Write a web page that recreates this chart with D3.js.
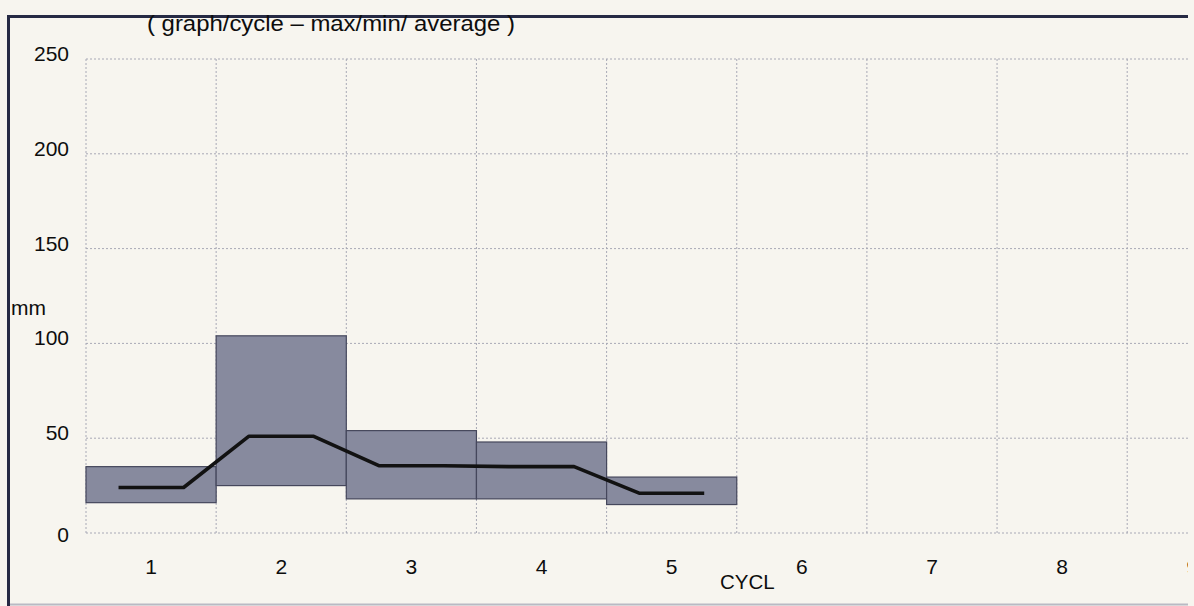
<!DOCTYPE html>
<html>
<head>
<meta charset="utf-8">
<script src="https://cdn.jsdelivr.net/npm/d3@7"></script>
<style>
  body { margin: 0; background: #f7f5ef; }
  svg { display: block; }
</style>
</head>
<body>
<div id="chart"></div>
<script>
// values
var cycles = [1, 2, 3, 4, 5]
var maxVals = [35, 104, 54, 48, 29.5]
var minVals = [16, 25, 18, 18, 15]
var avgVals = [24, 51, 35.5, 35, 21]
var xTicks = [1, 2, 3, 4, 5, 6, 7, 8, 9]
var yTicks = [0, 50, 100, 150, 200, 250]

var width = 1194
var height = 606
var font = "'Liberation Sans', Arial, sans-serif"

var x = d3.scaleLinear()
  .domain([0, 9])
  .range([86, 86 + 9 * 130.15])

var y = d3.scaleLinear()
  .domain([0, 250])
  .range([533, 59])

var svg = d3.select("#chart").append("svg")
  .attr("width", width)
  .attr("height", height)
  .style("background", "#f7f5ef")

svg.append("clipPath")
  .attr("id", "clip")
  .append("rect")
  .attr("x", 0).attr("y", 0)
  .attr("width", 1188).attr("height", height)

var g = svg.append("g").attr("clip-path", "url(#clip)")

// dotted grid
g.append("g")
  .selectAll("line")
  .data(yTicks)
  .join("line")
  .attr("x1", x(0)).attr("x2", 1188)
  .attr("y1", d => y(d)).attr("y2", d => y(d))
  .attr("stroke", "#a8a9b6")
  .attr("stroke-width", 1)
  .attr("stroke-dasharray", "2,2")

g.append("g")
  .selectAll("line")
  .data(d3.range(0, 9))
  .join("line")
  .attr("x1", d => x(d)).attr("x2", d => x(d))
  .attr("y1", y(0)).attr("y2", y(250))
  .attr("stroke", "#a8a9b6")
  .attr("stroke-width", 1)
  .attr("stroke-dasharray", "2,2")

// min/max boxes
g.append("g")
  .selectAll("rect")
  .data(cycles)
  .join("rect")
  .attr("x", (d, i) => x(d - 1))
  .attr("width", (d, i) => x(d) - x(d - 1))
  .attr("y", (d, i) => y(maxVals[i]))
  .attr("height", (d, i) => y(minVals[i]) - y(maxVals[i]))
  .attr("fill", "#878a9e")
  .attr("stroke", "#45475c")
  .attr("stroke-width", 1.2)

// average line, flat across the middle half of each cycle
var avgPts = []
cycles.forEach((c, i) => {
  avgPts.push([c - 0.75, avgVals[i]])
  avgPts.push([c - 0.25, avgVals[i]])
})

var line = d3.line()
  .x(d => x(d[0]))
  .y(d => y(d[1]))

g.append("path")
  .datum(avgPts)
  .attr("fill", "none")
  .attr("stroke", "#121212")
  .attr("stroke-width", 3.6)
  .attr("stroke-linejoin", "round")
  .attr("d", line)

// x labels (the 9 is cut by the frame edge, as in the scan)
g.append("g")
  .selectAll("text")
  .data(xTicks)
  .join("text")
  .attr("x", d => x(d - 0.5))
  .attr("y", 574)
  .attr("text-anchor", "middle")
  .style("font", "21px " + font)
  .attr("fill", "#0d0d0d")
  .text(d => d)

// y labels
svg.append("g")
  .selectAll("text")
  .data(yTicks)
  .join("text")
  .attr("x", 69)
  .attr("y", d => y(d) + (d == 0 ? 9 : 2))
  .attr("text-anchor", "end")
  .style("font", "21px " + font)
  .attr("fill", "#0d0d0d")
  .text(d => d)

svg.append("text")
  .attr("x", 11)
  .attr("y", 315)
  .style("font", "21px " + font)
  .attr("fill", "#0d0d0d")
  .text("mm")

svg.append("text")
  .attr("x", 720)
  .attr("y", 589)
  .style("font", "20.5px " + font)
  .attr("fill", "#0d0d0d")
  .text("CYCL")

// frame
svg.append("line")
  .attr("x1", 8).attr("x2", 1188)
  .attr("y1", 16.5).attr("y2", 16.5)
  .attr("stroke", "#262a44")
  .attr("stroke-width", 3)

svg.append("line")
  .attr("x1", 8.5).attr("x2", 8.5)
  .attr("y1", 15).attr("y2", height)
  .attr("stroke", "#262a44")
  .attr("stroke-width", 3)

svg.append("line")
  .attr("x1", 10).attr("x2", 1188)
  .attr("y1", 604.5).attr("y2", 604.5)
  .attr("stroke", "#b9bac4")
  .attr("stroke-width", 2)

svg.append("text")
  .attr("x", 147)
  .attr("y", 31)
  .attr("textLength", 368)
  .attr("lengthAdjust", "spacingAndGlyphs")
  .style("font", "22px " + font)
  .attr("fill", "#0d0d0d")
  .text("( graph/cycle – max/min/ average )")
</script>
</body>
</html>
